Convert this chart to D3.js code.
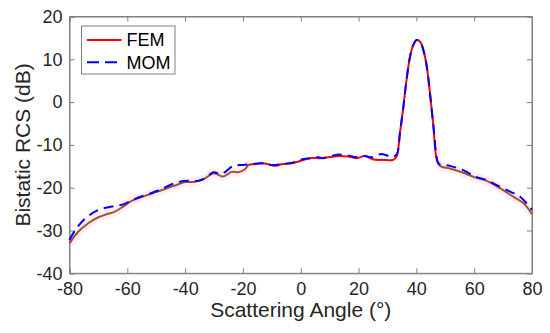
<!DOCTYPE html>
<html><head><meta charset="utf-8">
<script src="https://cdn.jsdelivr.net/npm/d3@7"></script>
<style>html,body{margin:0;padding:0;background:#fff;}svg{display:block;}</style>
</head><body>
<svg id="chart" width="550" height="333"></svg>
<script>
const xTicks = [-80, -60, -40, -20, 0, 20, 40, 60, 80];
const yTicks = [-40, -30, -20, -10, 0, 10, 20];
const seriesNames = ["FEM", "MOM"];

const femAngle = [-80,-77,-73.5,-70,-66.6,-64.3,-61.4,-58.5,-53.9,-50.4,-47,-43.5,-40,-36.6,-33.1,-30.2,-28.5,-26.8,-23.9,-21.6,-19.3,-18.1,-15.8,-13.5,-11.2,-8.9,-6.6,-3.1,0,3.2,6.7,10.1,13.6,17,19.4,22.2,25.1,28.6,32,33.2,34.3,35.5,36.6,37.8,38.9,40.1,41.3,42.4,43.6,44.7,45.9,47,48.2,51.6,56.2,60.3,64.3,68.9,73.5,77,80];
const femRCS = [-33.0,-30.3,-28.3,-26.9,-26.1,-25.6,-24.4,-23.1,-21.9,-21.1,-20.3,-19.5,-18.7,-18.6,-17.8,-16.6,-17.0,-17.4,-16.3,-16.4,-15.7,-14.7,-14.5,-14.3,-14.5,-14.9,-14.5,-14.3,-13.7,-13.1,-13.1,-12.8,-12.6,-12.8,-13.1,-12.6,-13.4,-13.5,-13.5,-12.6,-7.3,-1.1,5.2,10.6,13.3,14.5,14.1,12.2,8.3,2.1,-5.7,-13.2,-14.9,-15.5,-16.5,-17.6,-18.4,-20.1,-22.1,-23.6,-26.2];

const momAngle = [-80,-78,-74.6,-70,-65.4,-61.4,-57.3,-52.7,-48.1,-44.6,-41.8,-38.9,-35.4,-33.1,-30.2,-27.5,-23.3,-19.9,-17,-13.5,-10,-6.6,-3.1,0.3,3.2,5.5,7.8,12.4,15.8,19.4,22.2,24.5,28,31.5,33.2,34.3,35.5,36.6,37.8,38.9,40.1,41.3,42.4,43.6,44.7,45.9,47,47.6,51.6,56.2,60.3,64.3,67.8,72.4,75.9,80];
const momRCS = [-32.2,-29.9,-27.2,-25.2,-24.4,-23.9,-22.6,-21.5,-20.3,-19.2,-18.6,-18.4,-18.4,-17.8,-16.4,-16.8,-14.9,-14.7,-14.5,-14.3,-14.7,-14.5,-14.2,-13.4,-13.1,-12.8,-13.1,-12.3,-12.4,-12.9,-12.6,-12.9,-12.1,-12.8,-12.2,-7.3,-1.1,5.2,10.6,13.3,14.5,14.1,12.2,8.3,2.1,-5.7,-12.8,-14.3,-14.9,-15.9,-17.4,-18.2,-19.4,-20.9,-22.1,-25.2];

const svg = d3.select("#chart");
const L = 69.5, R = 532, T = 16.5, B = 273.3;
const x = d3.scaleLinear().domain([-80, 80]).range([L, R]);
const y = d3.scaleLinear().domain([-40, 20]).range([B, T]);
const font = "'Liberation Sans', Arial, Helvetica, sans-serif";
const axisCol = "#808080", textCol = "#262626";
const fmt = d => String(d);

// gradients for outer brown segments
const defs = svg.append("defs");
function grad(id, outer, inner) {
  const g = defs.append("linearGradient").attr("id", id)
    .attr("gradientUnits", "userSpaceOnUse")
    .attr("x1", x(-80)).attr("x2", x(80)).attr("y1", 0).attr("y2", 0);
  const o1 = (x(-18) - x(-80)) / (x(80) - x(-80));
  const o2 = (x(47.5) - x(-80)) / (x(80) - x(-80));
  [[0, outer], [o1, outer], [o1, inner], [o2, inner], [o2, outer], [1, outer]].forEach(([o, c]) => {
    g.append("stop").attr("offset", o).attr("stop-color", c[0]).attr("stop-opacity", c[1]);
  });
}
grad("femGrad", ["#9a5a22", 1], ["#ff0000", 1]);
grad("haloGrad", ["#ff66dd", 0.13], ["#ff66dd", 0.0]);

// axes box
svg.append("rect").attr("x", L).attr("y", T).attr("width", R - L).attr("height", B - T)
  .attr("fill", "none").attr("stroke", axisCol).attr("stroke-width", 1);

const xAxisB = d3.axisBottom(x).tickValues(xTicks).tickSize(-5).tickPadding(9).tickFormat(fmt);
const xAxisT = d3.axisTop(x).tickValues(xTicks).tickSize(-5).tickFormat("");
const yAxisL = d3.axisLeft(y).tickValues(yTicks).tickSize(-5).tickPadding(7).tickFormat(fmt);
const yAxisR = d3.axisRight(y).tickValues(yTicks).tickSize(-5).tickFormat("");

function styleAxis(g) {
  g.select(".domain").attr("stroke", axisCol);
  g.selectAll(".tick line").attr("stroke", axisCol);
  g.selectAll("text").attr("fill", textCol).style("font-family", font).style("font-size", "18px");
}
svg.append("g").attr("transform", `translate(0,${B})`).call(xAxisB).call(styleAxis)
  .selectAll("text").attr("dy", "0.71em");
svg.append("g").attr("transform", `translate(0,${T})`).call(xAxisT).call(styleAxis);
svg.append("g").attr("transform", `translate(${L},0)`).call(yAxisL).call(styleAxis);
svg.append("g").attr("transform", `translate(${R},0)`).call(yAxisR).call(styleAxis);

// labels
svg.append("text").attr("x", (L + R) / 2).attr("y", 316.5).attr("text-anchor", "middle")
  .style("font-family", font).style("font-size", "21px").attr("fill", textCol)
  .text("Scattering Angle (°)");
svg.append("text").attr("transform", `translate(29.5,${(T + B) / 2}) rotate(-90)`)
  .attr("text-anchor", "middle")
  .style("font-family", font).style("font-size", "21px").attr("fill", textCol)
  .text("Bistatic RCS (dB)");

// lines
const line = d3.line().x(d => x(d[0])).y(d => y(d[1])).curve(d3.curveCatmullRom.alpha(0.5));
const fem = femAngle.map((a, i) => [a, femRCS[i]]);
const mom = momAngle.map((a, i) => [a, momRCS[i]]);

const plot = svg.append("g");
plot.append("path").datum(fem).attr("d", line).attr("fill", "none")
  .attr("stroke", "url(#haloGrad)").attr("stroke-width", 9).attr("stroke-linejoin", "round");
plot.append("path").datum(fem).attr("d", line).attr("fill", "none")
  .attr("stroke", "url(#femGrad)").attr("stroke-width", 2).attr("stroke-linejoin", "round");
plot.append("path").datum(mom).attr("d", line).attr("fill", "none")
  .attr("stroke", "#0000ff").attr("stroke-width", 2).attr("stroke-dasharray", "10,6");

// legend
const lg = svg.append("g");
lg.append("rect").attr("x", 81.5).attr("y", 26).attr("width", 93.5).attr("height", 48)
  .attr("fill", "#fff").attr("stroke", axisCol).attr("stroke-width", 1);
const legendColors = ["#ff0000", "#0000ff"];
const legendDash = [null, "12,6"];
seriesNames.forEach((n, i) => {
  const yy = 40 + i * 22.3;
  lg.append("line").attr("x1", 87).attr("x2", 121.5).attr("y1", yy).attr("y2", yy)
    .attr("stroke", legendColors[i]).attr("stroke-width", 2)
    .attr("stroke-dasharray", legendDash[i]);
  lg.append("text").attr("x", 126.5).attr("y", yy + 6.3)
    .style("font-family", font).style("font-size", "18px").attr("fill", "#000").text(n);
});
</script>
</body></html>
